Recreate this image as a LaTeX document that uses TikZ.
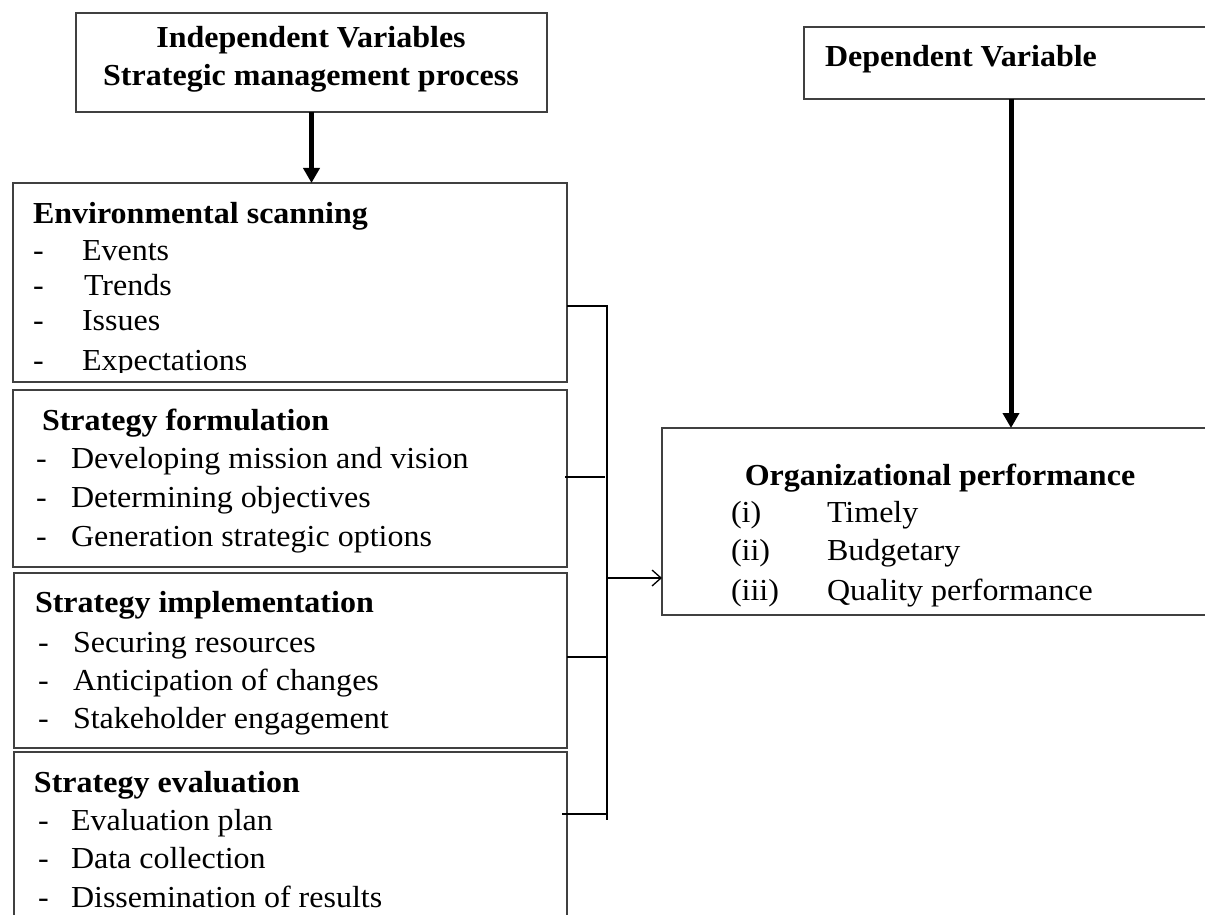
\documentclass[tikz,border=0pt]{standalone}
\usepackage{fontspec}
\setmainfont{Liberation Serif}[FakeStretch=1.05]
\usetikzlibrary{arrows.meta}
\begin{document}
\begin{tikzpicture}[x=1pt,y=-1pt,
  box/.style={draw=black!75,line width=1.5pt,inner sep=0pt,outer sep=0pt,anchor=north west},
  txt/.style={inner sep=0pt,outer sep=0pt,anchor=base west,font=\fontsize{30.5}{36}\selectfont},
  btxt/.style={txt,font=\fontsize{30.5}{36}\selectfont\bfseries},
  thickarrow/.style={line width=5pt,-{Triangle[width=16pt,length=15pt]}},
  bracket/.style={line width=2pt,black},
  openarrow/.style={line width=1.3pt,-{Straight Barb[length=9pt,width=16pt]}}]
\useasboundingbox (0,0) rectangle (1205,915);
% boxes
\node[box,minimum width=471pt,minimum height=99pt] (iv) at (76,13) {};
\node[box,minimum width=420pt,minimum height=72pt] (dv) at (804,27) {};
\node[box,minimum width=554pt,minimum height=199pt] (es) at (13,183) {};
\node[box,minimum width=554pt,minimum height=177pt] (sf) at (13,390) {};
\node[box,minimum width=553pt,minimum height=175pt] (si) at (14,573) {};
\node[box,minimum width=553pt,minimum height=200pt] (se) at (14,752) {};
\node[box,minimum width=560pt,minimum height=187pt] (op) at (662,428) {};
% header texts
\node[btxt,anchor=base] (ivt1) at (311,48) {Independent Variables};
\node[btxt,anchor=base] (ivt2) at (311,86) {Strategic management process};
\node[btxt] (dvt) at (825,67) {Dependent Variable};
% environmental scanning
\node[btxt] (est) at (33,223) {Environmental scanning};
\node[txt] (esd1) at (33,260) {-};\node[txt] (es1) at (82,260) {Events};
\node[txt] (esd2) at (33,295) {-};\node[txt] (es2) at (84,295) {Trends};
\node[txt] (esd3) at (33,330) {-};\node[txt] (es3) at (82,330) {Issues};
\begin{scope}
\clip (13,183) rectangle (567,372);
\node[txt] (esd4) at (33,370) {-};\node[txt] (es4) at (82,370) {Expectations};
\end{scope}
% strategy formulation
\node[btxt] (sft) at (42,430) {Strategy formulation};
\node[txt] (sfd1) at (36,468) {-};\node[txt] (sf1) at (71,468) {Developing mission and vision};
\node[txt] (sfd2) at (36,507) {-};\node[txt] (sf2) at (71,507) {Determining objectives};
\node[txt] (sfd3) at (36,546) {-};\node[txt] (sf3) at (71,546) {Generation strategic options};
% strategy implementation
\node[btxt] (sit) at (35,612) {Strategy implementation};
\node[txt] (sid1) at (38,652) {-};\node[txt] (si1) at (73,652) {Securing resources};
\node[txt] (sid2) at (38,690) {-};\node[txt] (si2) at (73,690) {Anticipation of changes};
\node[txt] (sid3) at (38,728) {-};\node[txt] (si3) at (73,728) {Stakeholder engagement};
% strategy evaluation
\node[btxt] (set) at (34,792) {Strategy evaluation};
\node[txt] (sed1) at (38,830) {-};\node[txt] (se1) at (71,830) {Evaluation plan};
\node[txt] (sed2) at (38,868) {-};\node[txt] (se2) at (71,868) {Data collection};
\node[txt] (sed3) at (38,907) {-};\node[txt] (se3) at (71,907) {Dissemination of results};
% organizational performance
\node[btxt,anchor=base] (opt) at (940,485) {Organizational performance};
\node[txt] (opl1) at (731,522) {(i)};\node[txt] (op1) at (827,522) {Timely};
\node[txt] (opl2) at (731,560) {(ii)};\node[txt] (op2) at (827,560) {Budgetary};
\node[txt] (opl3) at (731,600) {(iii)};\node[txt] (op3) at (827,600) {Quality performance};
% arrows
\draw[thickarrow] (iv.south) -- (iv.south |- es.north);
\coordinate (dva) at (1011,99);
\draw[thickarrow] (dva) -- (dva |- op.north);
% bracket
\coordinate (btop) at (607,306);
\coordinate (bbot) at (607,820);
\draw[bracket] (es.east |- btop) -- (btop) -- (bbot);
\coordinate (t1) at (605,477);
\coordinate (t2) at (607,657);
\coordinate (t3) at (606,814);
\draw[bracket] ([xshift=-2pt]sf.east |- t1) -- (t1);
\draw[bracket] (si.east |- t2) -- (t2);
\draw[bracket] ([xshift=-5pt]se.east |- t3) -- (t3);
\coordinate (am) at (607,578);
\draw[openarrow] (am) -- (am -| op.west);
\end{tikzpicture}
\end{document}
